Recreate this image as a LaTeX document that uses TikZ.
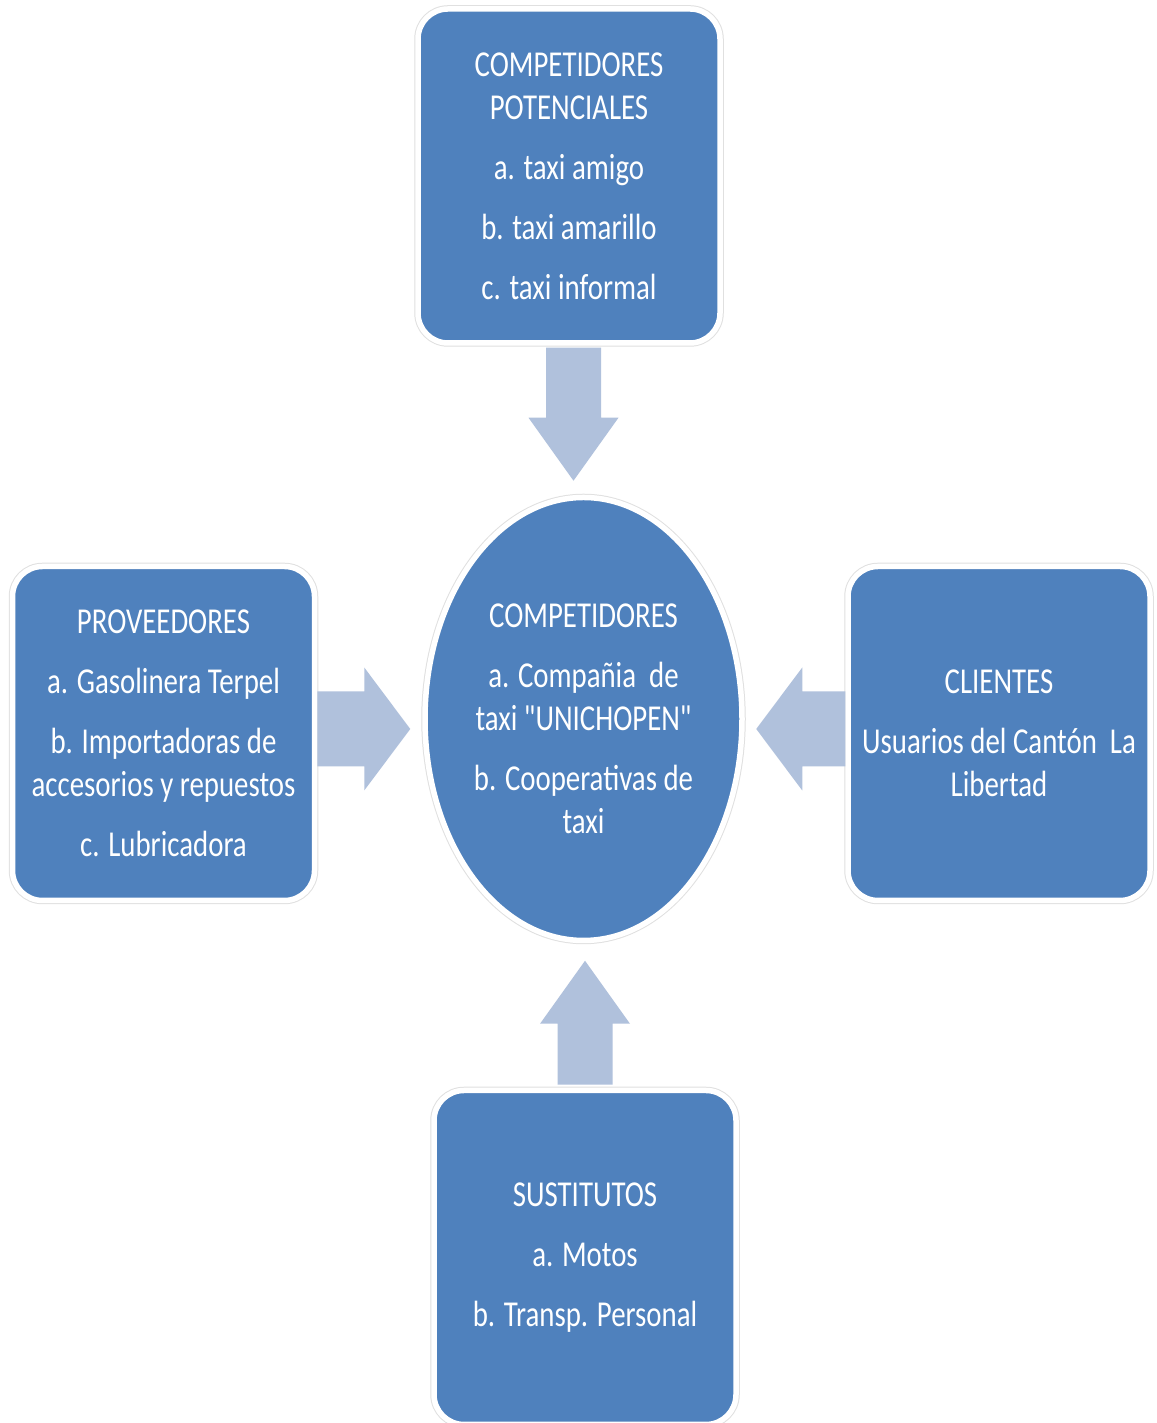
\documentclass[tikz,border=0pt]{standalone}
\usepackage{fontspec}
\setmainfont{Carlito}[FakeStretch=0.79, Ligatures=TeXOff]
\usetikzlibrary{shapes.geometric,calc}
\definecolor{boxblue}{HTML}{4F81BD}
\definecolor{arrowblue}{HTML}{B0C1DC}
\tikzset{
  panelbase/.style={fill=boxblue, draw=white, line width=5.5pt,
    preaction={draw=black!12, line width=7.5pt},
    text=white, align=center, inner sep=0pt,
    font=\fontsize{36.5}{43}\selectfont},
  panel/.style={panelbase, rectangle, rounded corners=30pt,
    minimum width=302pt, minimum height=334pt},
  hub/.style={panelbase, ellipse, minimum width=317pt, minimum height=443pt},
  arrowfill/.style={fill=arrowblue},
}
% block arrow: start, direction, length, head length, half shaft, half head
\newcommand\blockarrow[6]{%
  \fill[arrowfill, shift={(#1)}, rotate=#2]
    (0,-#5) -- ({#3-#4},-#5) -- ({#3-#4},-#6) -- (#3,0) --
    ({#3-#4},#6) -- ({#3-#4},#5) -- (0,#5) -- cycle;}
\begin{document}
\begin{tikzpicture}[x=1pt,y=1pt]
\fill[white] (0,0) rectangle (1156,1423);
\useasboundingbox (0,0) rectangle (1156,1423);

\node[panel] (top) at (569,1247)
  {COMPETIDORES\\POTENCIALES\\[17pt]a. taxi amigo\\[17pt]b. taxi amarillo\\[17pt]c. taxi informal};
\node[panel] (left) at (163.5,689.5)
  {PROVEEDORES\\[17pt]a. Gasolinera Terpel\\[17pt]b. Importadoras de\\accesorios y repuestos\\[17pt]c. Lubricadora};
\node[panel] (right) at (999,689.5)
  {CLIENTES\\[17pt]Usuarios del Cantón~ La\\Libertad};
\node[panel] (bottom) at (585,165.5)
  {SUSTITUTOS\\[17pt]a. Motos\\[17pt]b. Transp. Personal};
\node[hub] (core) at (583.5,704)
  {COMPETIDORES\\[17pt]a. Compañia~ de\\taxi "UNICHOPEN"\\[17pt]b. Cooperativas de\\taxi};

\blockarrow{$(top.south)+(4.5,-2)$}{-90}{133}{63}{27.5}{45}
\blockarrow{$(left.east)+(0,4.5)$}{0}{93}{46}{37.5}{61.5}
\blockarrow{$(right.west)+(0,4.5)$}{180}{89}{46}{37.5}{61.5}
\blockarrow{$(bottom.north)+(0,3)$}{90}{124}{63}{27.5}{45}
\end{tikzpicture}
\end{document}
